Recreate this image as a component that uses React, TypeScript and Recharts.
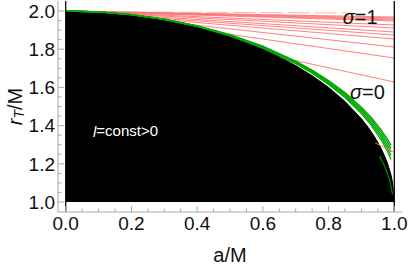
import React from 'react';
import { ComposedChart, Area, Line, XAxis, YAxis, ReferenceLine, ReferenceDot, Label } from 'recharts';

// tick positions (majors every 0.2, minors every 0.05)
const aTicks = [0, 0.05, 0.1, 0.15, 0.2, 0.25, 0.3, 0.35, 0.4, 0.45, 0.5, 0.55, 0.6, 0.65, 0.7, 0.75, 0.8, 0.85, 0.9, 0.95, 1];
const rTicks = [1, 1.05, 1.1, 1.15, 1.2, 1.25, 1.3, 1.35, 1.4, 1.45, 1.5, 1.55, 1.6, 1.65, 1.7, 1.75, 1.8, 1.85, 1.9, 1.95, 2];

// black region: boundary
const horizonA = [0, 0.05, 0.1, 0.15, 0.2, 0.25, 0.3, 0.35, 0.4, 0.45, 0.5, 0.55, 0.6, 0.65, 0.7, 0.75, 0.8, 0.85, 0.9, 0.92, 0.94, 0.96, 0.97, 0.98, 0.99, 0.995, 1];
const horizonR = [2.0, 1.9987, 1.995, 1.9887, 1.9798, 1.9682, 1.9539, 1.9367, 1.9165, 1.893, 1.866, 1.8352, 1.8, 1.7599, 1.7141, 1.6614, 1.6, 1.5268, 1.4359, 1.3919, 1.3412, 1.28, 1.2431, 1.199, 1.1411, 1.0999, 1.0];

// green curves hugging the boundary
const greenA = [0, 0.1, 0.2, 0.3, 0.4, 0.5, 0.6, 0.7, 0.75, 0.8, 0.85, 0.9, 0.93, 0.96, 0.98, 0.99];
const green1 = [2.0, 1.9953, 1.9812, 1.9572, 1.9226, 1.8761, 1.8156, 1.7378, 1.6906, 1.6362, 1.5728, 1.4967, 1.4423, 1.378, 1.3268, 1.2975];
const green2 = [2.0, 1.9953, 1.981, 1.9568, 1.9217, 1.8746, 1.8134, 1.7344, 1.6865, 1.6312, 1.5664, 1.4885, 1.4324, 1.3657, 1.3118, 1.2806];
const green3 = [2.0, 1.9952, 1.9808, 1.9563, 1.9209, 1.8732, 1.8112, 1.7311, 1.6824, 1.6261, 1.56, 1.4801, 1.4223, 1.3528, 1.296, 1.2625];
const green4 = [2.0, 1.9952, 1.9806, 1.9558, 1.92, 1.8718, 1.809, 1.7277, 1.6782, 1.621, 1.5535, 1.4716, 1.4119, 1.3395, 1.2793, 1.2431];
const green5 = [2.0, 1.9951, 1.9804, 1.9554, 1.9191, 1.8703, 1.8067, 1.7244, 1.6741, 1.6158, 1.547, 1.4629, 1.4013, 1.3257, 1.2616, 1.222];
const innerGreenA = [0.955, 0.97, 0.985, 0.995];
const innerGreenR = [1.24, 1.19, 1.12, 1.04];

// red fan: start on the boundary, end at a/M = 1
const fanStartA = [0.04, 0.06, 0.08, 0.1, 0.12, 0.15, 0.18, 0.22, 0.26, 0.3, 0.36, 0.46, 0.653];
const fanStartR = [1.9992, 1.9982, 1.9968, 1.995, 1.9928, 1.9887, 1.9837, 1.9755, 1.9656, 1.9539, 1.933, 1.8879, 1.7574];
const fanEndR = [1.9686, 1.9634, 1.9581, 1.9529, 1.9476, 1.9267, 1.911, 1.89, 1.8743, 1.8534, 1.8115, 1.7539, 1.6283];
const redBitA = [0.942, 0.997];
const redBitR = [1.309, 1.262];
const topDashA = [0.1, 0.87];
const topDashR = [1.995, 1.99];

const horizon = horizonA.map((a, i) => ({ a, r: horizonR[i] }));
const toPts = (xs: number[], ys: number[]) => xs.map((a, i) => ({ a, r: ys[i] }));
const greens = [green1, green2, green3, green4, green5].map((g) => toPts(greenA, g));
const fans = fanStartA.map((a, i) => [{ a, r: fanStartR[i] }, { a: 1, r: fanEndR[i] }]);

const FONT = 'Liberation Sans, Arial, sans-serif';
const FRAME = '#a8a8a8';
const RED = '#ff7373';
const GREEN = '#00aa00';

const isMajor = (v: number) => Math.abs(v * 5 - Math.round(v * 5)) < 1e-6;

const bottomTick = (p: any) => {
  const { x, y, payload } = p;
  const major = isMajor(payload.value);
  return (
    <g>
      <line x1={x} x2={x} y1={y} y2={y - (major ? 6 : 3.5)} stroke={FRAME} />
      {major && (
        <text x={x} y={y + 18} textAnchor="middle" fontSize={19} fontFamily={FONT} fill="#111">
          {payload.value.toFixed(1)}
        </text>
      )}
    </g>
  );
};

const topTick = (p: any) => {
  const { x, y, payload } = p;
  const major = isMajor(payload.value);
  return <line x1={x} x2={x} y1={y} y2={y + (major ? 6 : 3.5)} stroke={FRAME} />;
};

const leftTick = (p: any) => {
  const { x, y, payload } = p;
  const major = isMajor(payload.value);
  return (
    <g>
      <line x1={x} x2={x + (major ? 6 : 3.5)} y1={y} y2={y} stroke={FRAME} />
      {major && (
        <text x={x - 3} y={y + 6.8} textAnchor="end" fontSize={19} fontFamily={FONT} fill="#111">
          {payload.value.toFixed(1)}
        </text>
      )}
    </g>
  );
};

const rightTick = (p: any) => {
  const { x, y, payload } = p;
  const major = isMajor(payload.value);
  return <line x1={x} x2={x - (major ? 6 : 3.5)} y1={y} y2={y} stroke={FRAME} />;
};

const YLabel = (p: any) => {
  const vb = p.viewBox;
  const cx = vb.x + 15;
  const cy = vb.y + vb.height / 2;
  return (
    <text x={cx} y={cy} transform={`rotate(-90 ${cx} ${cy})`} textAnchor="middle" dominantBaseline="central"
      fontSize={20} fontFamily={FONT} fill="#111">
      <tspan fontStyle="italic">r</tspan>
      <tspan fontStyle="italic" fontSize={14} dy={4}>T</tspan>
      <tspan dy={-4}>/M</tspan>
    </text>
  );
};

const XLabel = (p: any) => {
  const vb = p.viewBox;
  return (
    <text x={vb.x + vb.width / 2} y={vb.y + vb.height - 4} textAnchor="middle" fontSize={20} fontFamily={FONT} fill="#111">
      a/M
    </text>
  );
};

const sigmaLabel = (v: string) => (p: any) => (
  <text x={p.viewBox.x} y={p.viewBox.y} textAnchor="middle" dominantBaseline="central" fontSize={20} fontFamily={FONT} fill="#111">
    <tspan fontStyle="italic">σ</tspan>={v}
  </text>
);

const constLabel = (p: any) => (
  <text x={p.viewBox.x} y={p.viewBox.y} dominantBaseline="central" fontSize={15} fontFamily={FONT} fill="#fff">
    <tspan fontStyle="italic">l</tspan>=const&gt;0
  </text>
);

const X_DOMAIN: [number, number] = [-0.0235, 1.0235];
const Y_DOMAIN: [number, number] = [0.9476, 2.0524];

export default function App() {
  return (
    <div style={{ position: 'absolute', left: 0, top: 0, background: '#fff' }}>
      <ComposedChart width={409} height={266} data={horizon} margin={{ top: 1, right: 7, bottom: 0, left: 0 }}>
        <XAxis dataKey="a" type="number" domain={X_DOMAIN} allowDataOverflow ticks={aTicks} interval={0}
          height={54} tickSize={0} tickMargin={0} tickLine={false} axisLine={{ stroke: FRAME }} tick={bottomTick}>
          <Label content={XLabel} />
        </XAxis>
        <XAxis xAxisId="top" orientation="top" dataKey="a" type="number" domain={X_DOMAIN} allowDataOverflow ticks={aTicks}
          interval={0} height={0} tickSize={0} tickMargin={0} tickLine={false} axisLine={{ stroke: FRAME }} tick={topTick} />
        <YAxis type="number" domain={Y_DOMAIN} allowDataOverflow ticks={rTicks} interval={0} width={58}
          tickSize={0} tickMargin={0} tickLine={false} axisLine={{ stroke: FRAME }} tick={leftTick}>
          <Label content={YLabel} />
        </YAxis>
        <YAxis yAxisId="right" orientation="right" type="number" domain={Y_DOMAIN} allowDataOverflow ticks={rTicks}
          interval={0} width={0} tickSize={0} tickMargin={0} tickLine={false} axisLine={{ stroke: FRAME }} tick={rightTick} />

        <Area type="linear" dataKey="r" baseValue={1} fill="#000" fillOpacity={1} stroke="#000" strokeWidth={1}
          isAnimationActive={false} />

        <Line data={toPts(topDashA, topDashR)} dataKey="r" stroke="#ffb4b4" strokeWidth={1} strokeDasharray="22 5"
          dot={false} isAnimationActive={false} />
        {fans.map((f, i) => (
          <Line key={'f' + i} data={f} dataKey="r" stroke={RED} strokeWidth={0.9} dot={false} isAnimationActive={false} />
        ))}
        {greens.map((g, i) => (
          <Line key={'g' + i} data={g} dataKey="r" stroke={GREEN} strokeWidth={1.3} dot={false} isAnimationActive={false} />
        ))}
        <Line data={toPts(innerGreenA, innerGreenR)} dataKey="r" stroke="#008800" strokeWidth={1.3} dot={false}
          isAnimationActive={false} />
        <Line data={toPts(redBitA, redBitR)} dataKey="r" stroke={RED} strokeWidth={0.9} dot={false} isAnimationActive={false} />

        <ReferenceLine x={0} stroke="#000" strokeWidth={1.2} />
        <ReferenceLine x={1} stroke="#000" strokeWidth={1.3} />

        <ReferenceDot x={0.896} y={1.9686} r={0} fill="none" stroke="none" ifOverflow="visible" label={sigmaLabel('1')} />
        <ReferenceDot x={0.918} y={1.576} r={0} fill="none" stroke="none" ifOverflow="visible" label={sigmaLabel('0')} />
        <ReferenceDot x={0.083} y={1.372} r={0} fill="none" stroke="none" ifOverflow="visible" label={constLabel} />
      </ComposedChart>
    </div>
  );
}
